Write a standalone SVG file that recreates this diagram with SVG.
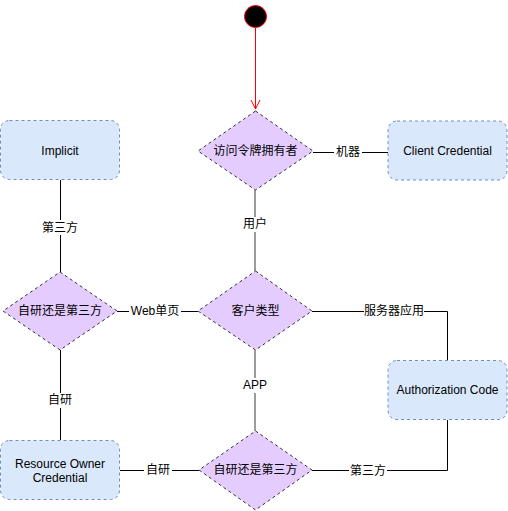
<svg xmlns="http://www.w3.org/2000/svg" width="508" height="511" viewBox="0 0 508 511">
<style>
.box{fill:#dae8fc;stroke:#6c8ebf;stroke-dasharray:3 3;stroke-width:1}
.dia{fill:#e5ccff;stroke:#333;stroke-dasharray:3 3;stroke-width:1}
.t{font-family:"Liberation Sans","Noto Sans CJK SC",sans-serif;font-size:12px;fill:#000;text-anchor:middle;dominant-baseline:central}
.e{fill:none;stroke:#000;stroke-width:1}
.v{fill:none;stroke:#000;stroke-width:1.3;opacity:0.6}
.lb{fill:#fff}
</style>
<rect width="508" height="511" fill="#fff"/>
<g id="connectors">
<path d="M255.5 28V109" fill="none" stroke="#f00"/>
<path d="M251 100L255.5 109L260 100" fill="none" stroke="#f00"/>
<path class="e" d="M313 152.5H388"/>
<path class="v" d="M255 190V271"/>
<path class="e" d="M60.5 180V272"/>
<path class="e" d="M117 311.5H198"/>
<path class="e" d="M312 311.5H447.5V360"/>
<path class="e" d="M60.5 350V440"/>
<path class="v" d="M255 350V431"/>
<path class="e" d="M120 470.5H199"/>
<path class="e" d="M447.5 420V470.5H312"/>
<rect class="lb" x="334" y="145" width="28" height="15"/>
<text class="t" x="348" y="152">机器</text>
<rect class="lb" x="241" y="217" width="28" height="15"/>
<text class="t" x="255" y="224">用户</text>
<rect class="lb" x="41" y="220" width="38" height="15"/>
<text class="t" x="60" y="228">第三方</text>
<rect class="lb" x="129" y="304" width="52" height="15"/>
<text class="t" x="155" y="311">Web单页</text>
<rect class="lb" x="364" y="304" width="60" height="15"/>
<text class="t" x="394" y="311">服务器应用</text>
<rect class="lb" x="241" y="378" width="28" height="15"/>
<text class="t" x="255" y="385">APP</text>
<rect class="lb" x="46" y="393" width="28" height="15"/>
<text class="t" x="60" y="400">自研</text>
<rect class="lb" x="144" y="463" width="28" height="15"/>
<text class="t" x="158" y="470">自研</text>
<rect class="lb" x="349" y="463" width="38" height="15"/>
<text class="t" x="368" y="471">第三方</text>
</g>
<g id="start">
<circle cx="255.5" cy="16.5" r="11" fill="#000" stroke="#f00" stroke-width="1"/>
</g>
<g id="d-holder">
<path class="dia" d="M255.5 111L313 151L255.5 190L198 151Z"/>
<text class="t" x="255.5" y="151">访问令牌拥有者</text>
</g>
<g id="client-credential">
<rect class="box" x="388" y="121" width="119" height="59" rx="9"/>
<text class="t" x="447.5" y="151">Client Credential</text>
</g>
<g id="implicit">
<rect class="box" x="0.5" y="120.5" width="119" height="59" rx="9"/>
<text class="t" x="60" y="151">Implicit</text>
</g>
<g id="d-left">
<path class="dia" d="M60 272L117 311L60 350L3 311Z"/>
<text class="t" x="60" y="311">自研还是第三方</text>
</g>
<g id="d-client-type">
<path class="dia" d="M255.5 271L312 311L255.5 350L198 311Z"/>
<text class="t" x="255.5" y="311">客户类型</text>
</g>
<g id="authorization-code">
<rect class="box" x="388" y="360.5" width="119" height="59" rx="9"/>
<text class="t" x="447.5" y="390">Authorization Code</text>
</g>
<g id="resource-owner">
<rect class="box" x="0.5" y="440.5" width="119" height="59" rx="9"/>
<text class="t" x="60" y="464">Resource Owner</text>
<text class="t" x="60" y="478">Credential</text>
</g>
<g id="d-bottom">
<path class="dia" d="M255.5 431L312 470L255.5 510L199 470Z"/>
<text class="t" x="255.5" y="470">自研还是第三方</text>
</g>
</svg>
